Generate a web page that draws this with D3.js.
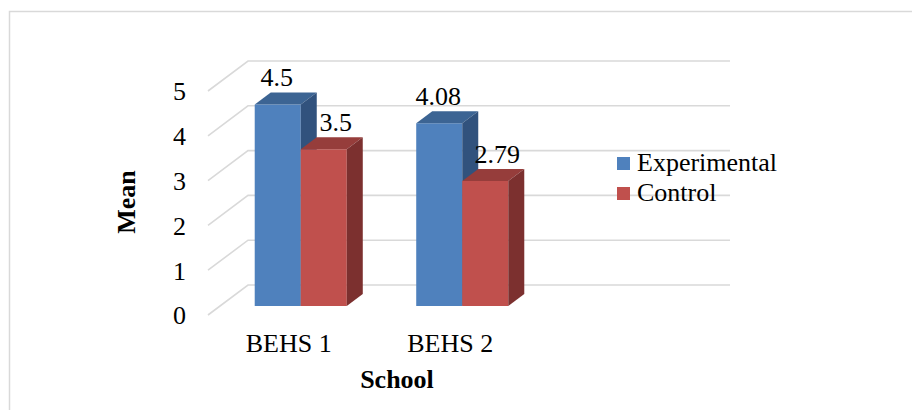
<!DOCTYPE html>
<html lang="en">
  <head>
    <meta charset="utf-8">
    <title>Mean by School</title>
    <script src="https://d3js.org/d3.v7.js"></script>
    <style>
      body { margin: 0; background: white; }
      text { font-family: "Liberation Serif", "Times New Roman", Times, serif; fill: black; }
      .axis .domain { display: none; }
      .axis text { font-size: 26px; font-family: "Liberation Serif", "Times New Roman", Times, serif; }
    </style>
  </head>
  <body>
    <script>
    // data
    const schools = ["BEHS 1", "BEHS 2"];
    const series = ["Experimental", "Control"];
    const experimental = [4.5, 4.08];
    const control = [3.5, 2.79];
    const yTicks = [0, 1, 2, 3, 4, 5];

    const w = 912;
    const h = 410;

    // front plane of the 3d box
    const frontLeft = 208;
    const frontRight = 690;
    const frontBottom = 315;
    const frontTop = 91;
    // full depth of the box (screen offset from front to back)
    const depthX = 40;
    const depthY = -30;
    // bars sit from depth 0.3 to 0.7
    const barFront = 0.3;
    const barBack = 0.7;

    const colors = {
      Experimental: {front: "#4F81BD", top: "#3C6493", side: "#31527D"},
      Control: {front: "#C0504D", top: "#963D3B", side: "#7C302F"}
    };

    const values = {Experimental: experimental, Control: control};

    const bardata = [];
    schools.forEach((s, i) => {
      series.forEach(k => {
        bardata.push({school: s, key: k, value: values[k][i]});
      });
    });

    const xScale = d3.scaleBand()
                     .domain(schools)
                     .range([frontLeft, frontLeft + 323])
                     .padding(0);

    const groupW = xScale.bandwidth() * 0.57;
    const xSub = d3.scaleBand()
                   .domain(series)
                   .range([(xScale.bandwidth() - groupW) / 2, (xScale.bandwidth() + groupW) / 2]);

    const yScale = d3.scaleLinear()
                     .domain([0, 5])
                     .range([frontBottom, frontTop]);

    // projects a point on the front plane to a given depth
    function px(x, d) { return x + depthX * d; }
    function py(y, d) { return y + depthY * d; }

    const svg = d3.select("body")
                  .append("svg")
                  .attr("width", w)
                  .attr("height", h);

    svg.append("rect")
       .attr("width", w)
       .attr("height", h)
       .attr("fill", "white");

    // chart border (only top and left visible)
    svg.append("path")
       .attr("d", `M9.5,${h} L9.5,11.5 L${w},11.5`)
       .attr("fill", "none")
       .attr("stroke", "#d9d9d9")
       .attr("stroke-width", 1.5);

    // gridlines: side wall diagonal + back wall line
    const grid = svg.append("g");
    yTicks.forEach(t => {
      const y = yScale(t);
      grid.append("path")
          .attr("d", `M${frontLeft},${y} L${px(frontLeft, 1)},${py(y, 1)} L${px(frontRight, 1)},${py(y, 1)}`)
          .attr("fill", "none")
          .attr("stroke", "#d9d9d9")
          .attr("stroke-width", 1.6);
    });

    // 3d bars
    const bars = svg.append("g").selectAll("g")
                    .data(bardata)
                    .enter().append("g");

    function barX0(d) { return xScale(d.school) + xSub(d.key); }

    // front face
    bars.append("path")
        .attr("fill", d => colors[d.key].front)
        .attr("d", d => {
          const x0 = px(barX0(d), barFront), x1 = x0 + xSub.bandwidth();
          const y0 = py(yScale(0), barFront), y1 = py(yScale(d.value), barFront);
          return `M${x0},${y0} L${x0},${y1} L${x1},${y1} L${x1},${y0} Z`;
        });

    // top face
    bars.append("path")
        .attr("fill", d => colors[d.key].top)
        .attr("d", d => {
          const x = barX0(d), xr = x + xSub.bandwidth(), y = yScale(d.value);
          return `M${px(x, barFront)},${py(y, barFront)} L${px(x, barBack)},${py(y, barBack)}` +
                 ` L${px(xr, barBack)},${py(y, barBack)} L${px(xr, barFront)},${py(y, barFront)} Z`;
        });

    // side face
    bars.append("path")
        .attr("fill", d => colors[d.key].side)
        .attr("d", d => {
          const xr = barX0(d) + xSub.bandwidth(), y = yScale(d.value), y0 = yScale(0);
          return `M${px(xr, barFront)},${py(y, barFront)} L${px(xr, barBack)},${py(y, barBack)}` +
                 ` L${px(xr, barBack)},${py(y0, barBack)} L${px(xr, barFront)},${py(y0, barFront)} Z`;
        });

    // value labels
    bars.append("text")
        .attr("text-anchor", "middle")
        .attr("font-size", 26)
        .attr("x", d => {
          const c = barX0(d) + xSub.bandwidth() / 2;
          return d.key === "Experimental" ? px(c, barFront) - 1 : px(c, barBack) - 4;
        })
        .attr("y", d => py(yScale(d.value), barBack) - 6)
        .text(d => d.value);

    // y axis labels
    svg.append("g")
       .attr("class", "axis")
       .attr("transform", `translate(${frontLeft - 22}, 0)`)
       .call(d3.axisLeft(yScale).tickValues(yTicks).tickFormat(d3.format("d")).tickSize(0).tickPadding(0))
       .selectAll("text")
       .attr("dy", "0.34em");

    // x axis labels
    svg.append("g")
       .attr("class", "axis")
       .attr("transform", `translate(0, ${frontBottom + 12})`)
       .call(d3.axisBottom(xScale).tickSize(0).tickPadding(0))
       .selectAll("text")
       .attr("dy", "0.95em");

    // axis titles
    svg.append("text")
       .attr("x", 397)
       .attr("y", 388)
       .attr("text-anchor", "middle")
       .attr("font-size", 26)
       .attr("font-weight", "bold")
       .text("School");

    svg.append("text")
       .attr("transform", "translate(135, 202) rotate(-90)")
       .attr("text-anchor", "middle")
       .attr("font-size", 26)
       .attr("font-weight", "bold")
       .text("Mean");

    // legend
    const legend = svg.append("g")
                      .attr("transform", "translate(617, 157)")
                      .selectAll("g")
                      .data(series)
                      .enter().append("g")
                      .attr("transform", (d, i) => `translate(0, ${i * 30})`);

    legend.append("rect")
          .attr("width", 13)
          .attr("height", 13)
          .attr("fill", d => colors[d].front);

    legend.append("text")
          .attr("x", 20)
          .attr("y", 13.5)
          .attr("font-size", 26)
          .text(d => d);
    </script>
  </body>
</html>
